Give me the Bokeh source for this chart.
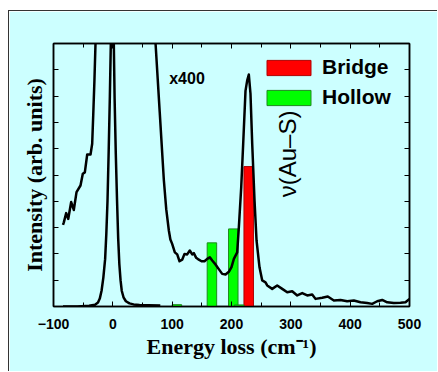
import math
from bokeh.plotting import figure
from bokeh.models import (LinearAxis, FixedTicker, Range1d, Legend, LegendItem,
                          ColumnDataSource)
from bokeh.core.properties import value
from bokeh.embed import file_html
from bokeh.resources import INLINE

# ---------------- data ----------------
# elastic (x1) spectrum
elastic_x = [-84, -60, -40, -30, -25, -22, -19, -16, -13, -11, -9, -7, -5, -3, -1.5,
             1, 3, 5, 7, 9, 11, 13, 15, 18, 22, 28, 35, 45, 60, 80]
elastic_y = [0.0, 0.0, 0.03, 0.07, 0.15, 0.3, 0.6, 1.1, 1.8, 2.75, 4.0, 5.9, 8.0, 10.5, 30.0,
             11.0, 7.9, 5.8, 4.1, 2.6, 1.6, 1.0, 0.6, 0.35, 0.2, 0.12, 0.08, 0.06, 0.05, 0.04]

# x400 magnified spectrum
x400_x = [-84, -82.6, -78.6, -75.2, -70.2, -65.8, -61.2, -54.5, -50.6, -47.2, -43.2,
          -37.6, -34.8, -33, -31, -29.2, -27, 0, 70,
          72, 79, 86, 90, 94.4, 97, 100, 104.5, 108.5, 112.4, 116.9, 120.8, 125.3,
          129.7, 133.8, 136.5, 140.5, 144.9, 149.5, 154.5, 159.1, 163.5, 167.5, 173,
          178.6, 184.3, 190, 195.5, 200, 204, 209.6, 212.4, 216.4, 219.7, 223.6,
          226.4, 229.2, 232, 234.9, 238.8, 242.2, 247.2, 251.8, 257.3, 260.2, 268.6,
          277, 285.5, 293.9, 302.3, 310.8, 319.2, 327.6, 336, 341.6, 352.9, 362.3,
          372.5, 383.7, 395, 406.2, 417.4, 428.7, 437.1, 445.6, 454, 462.4, 473.6,
          484.9, 493.3, 500]
x400_y = [3.1, 3.2, 3.55, 3.33, 3.97, 3.67, 4.35, 4.6, 5.05, 5.1, 5.78,
          5.78, 6.19, 7.3, 8.6, 10.0, 12.0, 40.0, 10.5,
          10.0, 7.4, 4.8, 3.7, 2.89, 2.55, 2.38, 2.06, 1.98, 1.72, 1.78, 2.0, 1.98,
          2.13, 1.98, 2.03, 1.85, 1.78, 1.72, 1.72, 1.81, 1.87, 1.75, 1.6,
          1.42, 1.24, 1.22, 1.32, 1.5, 1.81, 2.06, 3.02, 4.54, 6.19, 8.2,
          8.59, 8.82, 8.09, 6.19, 4.03, 2.51, 1.49, 0.99, 0.92, 0.8, 0.67,
          0.8, 0.67, 0.54, 0.58, 0.42, 0.51, 0.42, 0.46, 0.29, 0.33, 0.38,
          0.23, 0.25, 0.2, 0.23, 0.16, 0.13, 0.10, 0.2, 0.25, 0.16, 0.13,
          0.14, 0.16, 0.29]

# calculated modes
bridge_x = [229]
bridge_h = [5.32]
hollow_x = [108, 167, 203, 213]
hollow_h = [0.07, 2.42, 2.95, 0.06]

x_ticks = [-100, 0, 100, 200, 300, 400, 500]
x_minor = [-50, 50, 150, 250, 350, 450]
y_ticks = list(range(0, 11))

BG = "#CCFFFF"
BAR_W = 16

p = figure(width=429, height=361, output_backend="svg", toolbar_location=None,
           x_range=Range1d(-100, 500), y_range=Range1d(0, 10),
           background_fill_color=BG, border_fill_color=BG,
           min_border_left=44, min_border_right=29, min_border_top=32,
           min_border_bottom=66, x_axis_location="below", y_axis_location="left")
p.margin = (10, 0, 0, 8)
p.styles = {"border-top": "1.5px solid #333333", "border-left": "1.5px solid #333333"}
p.grid.visible = False
p.outline_line_color = "black"
p.outline_line_width = 1.5

# bars
src_b = ColumnDataSource(dict(x=bridge_x, top=bridge_h))
src_h = ColumnDataSource(dict(x=hollow_x, top=hollow_h))
rb = p.vbar(x="x", top="top", bottom=0, width=BAR_W, source=src_b,
            fill_color="#FF0000", line_color="#B00000", line_width=1)
rh = p.vbar(x="x", top="top", bottom=0, width=BAR_W, source=src_h,
            fill_color="#00FF00", line_color="#1E8A1E", line_width=1)

# curves
p.line(elastic_x, elastic_y, line_color="black", line_width=2.5, line_join="round")
p.line(x400_x, x400_y, line_color="black", line_width=2.5, line_join="round")

# texts
p.text(x=[95], y=[8.67], text=["x400"], text_font=value("Liberation Sans"),
       text_font_style="bold", text_font_size="16px", text_baseline="middle",
       text_align="left", text_color="black")
p.text(x=[294], y=[5.8], text=["ν(Au–S)"], angle=math.pi / 2,
       text_font=value("Liberation Sans"), text_font_size="24px",
       text_baseline="middle", text_align="center", text_color="black")

# axes
def style_axis(ax, labels=True):
    ax.axis_line_width = 1.5
    ax.axis_line_color = "black"
    ax.major_tick_in = 5
    ax.major_tick_out = 0
    ax.minor_tick_in = 4
    ax.minor_tick_out = 0
    ax.major_tick_line_width = 1
    ax.minor_tick_line_width = 1
    if not labels:
        ax.major_label_text_color = None
        ax.major_label_text_font_size = "1px"
        ax.major_label_standoff = 0

xt = FixedTicker(ticks=x_ticks, minor_ticks=x_minor)
yt = FixedTicker(ticks=y_ticks, minor_ticks=[])

xa = p.xaxis[0]
xa.ticker = xt
style_axis(xa)
xa.major_label_text_font = "Liberation Sans"
xa.major_label_text_font_style = "bold"
xa.major_label_text_font_size = "14px"
xa.major_label_text_color = "black"
xa.major_label_standoff = 12
xa.major_label_overrides = {-100: "−100"}
xa.axis_label = "Energy loss (cm⁻¹)"
xa.axis_label_text_font = "Liberation Serif"
xa.axis_label_text_font_style = "bold"
xa.axis_label_text_font_size = "22px"
xa.axis_label_text_color = "black"
xa.axis_label_standoff = 2

ya = p.yaxis[0]
ya.ticker = yt
style_axis(ya, labels=False)
ya.axis_label = "Intensity (arb. units)"
ya.axis_label_text_font = "Liberation Serif"
ya.axis_label_text_font_style = "bold"
ya.axis_label_text_font_size = "22px"
ya.axis_label_text_color = "black"
ya.axis_label_standoff = 7

top_ax = LinearAxis(ticker=xt)
style_axis(top_ax, labels=False)
p.add_layout(top_ax, "above")
right_ax = LinearAxis(ticker=yt)
style_axis(right_ax, labels=False)
p.add_layout(right_ax, "right")

legend = Legend(items=[LegendItem(label="Bridge", renderers=[rb]),
                       LegendItem(label="Hollow", renderers=[rh])],
                location=(208, 197), padding=0, margin=0, spacing=6,
                glyph_width=55, glyph_height=19, label_height=19,
                label_standoff=6, border_line_color=None,
                background_fill_alpha=0, label_text_color="black",
                label_text_font="Liberation Sans", label_text_font_style="bold",
                label_text_font_size="21px")
p.add_layout(legend, "center")

open("out.html", "w").write(file_html(p, INLINE))
